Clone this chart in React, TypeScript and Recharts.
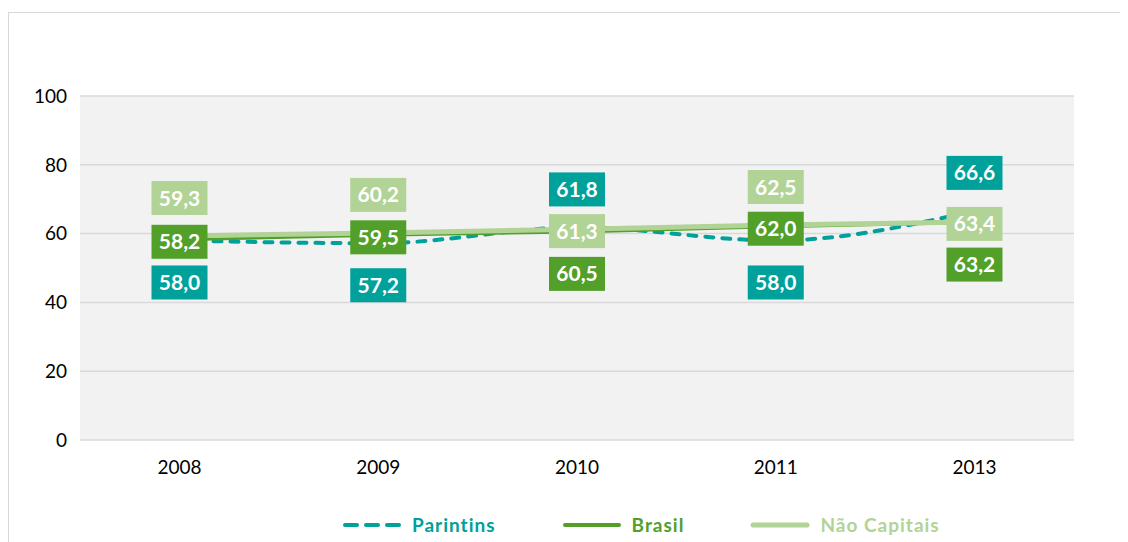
import React from "react";
import { LineChart, Line, XAxis, YAxis, CartesianGrid, LabelList } from "recharts";

const years = ["2008", "2009", "2010", "2011", "2013"];
const parintins = [58.0, 57.2, 61.8, 58.0, 66.6];
const brasil = [58.2, 59.5, 60.5, 62.0, 63.2];
const naoCapitais = [59.3, 60.2, 61.3, 62.5, 63.4];
const yTicks = [0, 20, 40, 60, 80, 100];

const COLORS: Record<string, string> = {
  parintins: "#00a19a",
  brasil: "#52a02a",
  naoCapitais: "#b2d396",
};

const FONT = "Lato, 'Open Sans', sans-serif";

const data = years.map((year, i) => ({
  year,
  parintins: parintins[i],
  brasil: brasil[i],
  naoCapitais: naoCapitais[i],
}));

// box labels: highest of the three goes above the point, lowest below
const makeLabel = (color: string) => (props: any) => {
  const { x, y, index, value } = props;
  if (x == null || y == null || value == null) return null;
  const row = [parintins[index], brasil[index], naoCapitais[index]];
  const rank = row.filter((v) => v < value).length;
  const dy = rank === 2 ? -38 : rank === 0 ? 42 : 2;
  const w = 56;
  const h = 34;
  const cy = y + dy;
  return (
    <g>
      <rect x={x - w / 2} y={cy - h / 2} width={w} height={h} fill={color} />
      <text
        x={x}
        y={cy}
        dy="0.36em"
        textAnchor="middle"
        fill="#fff"
        fontWeight="bold"
        fontSize={21}
        fontFamily={FONT}
      >
        {Number(value).toFixed(1).replace(".", ",")}
      </text>
    </g>
  );
};

const legendItems = [
  { name: "Parintins", color: COLORS.parintins, dashed: true, width: 4 },
  { name: "Brasil", color: COLORS.brasil, dashed: false, width: 4 },
  { name: "Não Capitais", color: COLORS.naoCapitais, dashed: false, width: 5 },
];

const CustomLegend = () => (
  <div
    style={{
      position: "absolute",
      top: 500,
      left: 0,
      width: 1119,
      display: "flex",
      alignItems: "center",
      paddingLeft: 333,
      boxSizing: "border-box",
      fontFamily: FONT,
    }}
  >
    {legendItems.map((item) => (
      <div key={item.name} style={{ display: "flex", alignItems: "center", marginRight: 66 }}>
        <svg width={60} height={10}>
          <line
            x1={3}
            y1={5}
            x2={57}
            y2={5}
            stroke={item.color}
            strokeWidth={item.width}
            strokeLinecap="round"
            strokeDasharray={item.dashed ? "12 9" : undefined}
          />
        </svg>
        <span style={{ color: item.color, fontWeight: "bold", fontSize: 19, marginLeft: 10, letterSpacing: 1 }}>
          {item.name}
        </span>
      </div>
    ))}
  </div>
);

export default function App() {
  return (
    <div
      style={{
        marginTop: 4,
        width: 1120,
        height: 534,
        borderTop: "1px solid #d9d9d9",
        borderLeft: "1px solid #d9d9d9",
        boxSizing: "border-box",
        position: "relative",
      }}
    >
      <LineChart width={1119} height={533} data={data} margin={{ top: 83, right: 54, left: 0, bottom: 76 }}>
        <CartesianGrid vertical={false} stroke="#d9d9d9" strokeWidth={1.5} fill="#f2f2f2" />
        <XAxis
          dataKey="year"
          axisLine={false}
          tickLine={false}
          tickSize={0}
          tickMargin={21}
          height={30}
          padding={{ left: 99.5, right: 99.5 }}
          tick={{ fill: "#000", fontSize: 19, fontFamily: FONT }}
        />
        <YAxis
          domain={[0, 100]}
          ticks={yTicks}
          axisLine={false}
          tickLine={false}
          tickSize={0}
          tickMargin={13}
          width={71}
          tick={{ fill: "#000", fontSize: 19, fontFamily: FONT }}
        />
        <Line
          type="monotone"
          dataKey="parintins"
          stroke={COLORS.parintins}
          strokeWidth={4}
          strokeDasharray="8 9"
          strokeLinecap="round"
          dot={false}
          activeDot={false}
          isAnimationActive={false}
        />
        <Line
          type="linear"
          dataKey="brasil"
          stroke={COLORS.brasil}
          strokeWidth={3}
          dot={false}
          activeDot={false}
          isAnimationActive={false}
        />
        <Line
          type="linear"
          dataKey="naoCapitais"
          stroke={COLORS.naoCapitais}
          strokeWidth={5}
          dot={false}
          activeDot={false}
          isAnimationActive={false}
        />
        {/* label-only layers so the boxes sit on top of every line */}
        <Line dataKey="parintins" stroke="none" dot={false} activeDot={false} legendType="none" isAnimationActive={false}>
          <LabelList dataKey="parintins" content={makeLabel(COLORS.parintins)} />
        </Line>
        <Line dataKey="brasil" stroke="none" dot={false} activeDot={false} legendType="none" isAnimationActive={false}>
          <LabelList dataKey="brasil" content={makeLabel(COLORS.brasil)} />
        </Line>
        <Line dataKey="naoCapitais" stroke="none" dot={false} activeDot={false} legendType="none" isAnimationActive={false}>
          <LabelList dataKey="naoCapitais" content={makeLabel(COLORS.naoCapitais)} />
        </Line>
      </LineChart>
      <CustomLegend />
    </div>
  );
}
